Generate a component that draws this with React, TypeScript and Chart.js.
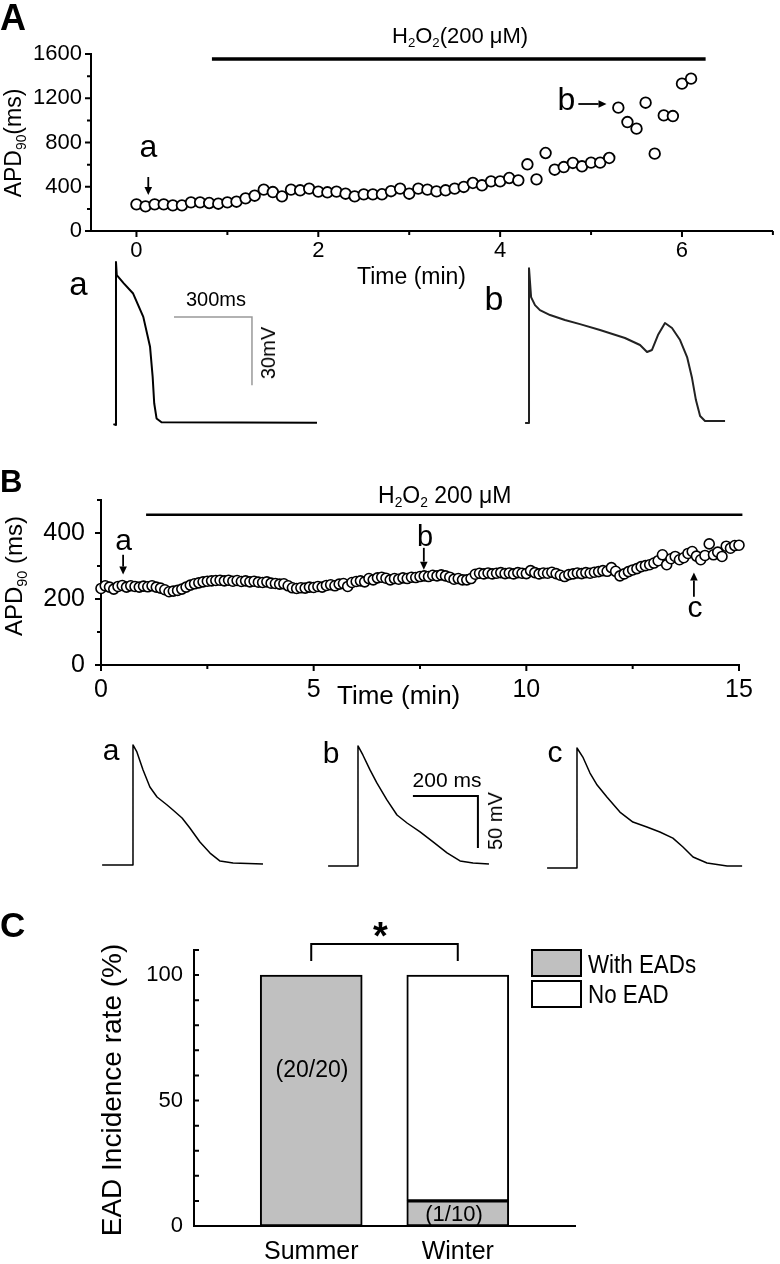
import React, { useEffect, useRef } from "react";
import { Chart, registerables } from "chart.js";
Chart.register(...registerables);

const FONT = '"Liberation Sans", Arial, Helvetica, sans-serif';
Chart.defaults.font.family = FONT;
Chart.defaults.color = "#000";

// ---------------- Panel A: APD90 vs time ----------------
const apdA_interval = 0.1; // min between sampled beats
const apdA_ms = [
  241, 223, 241, 241, 232, 232, 259, 259, 253, 247,
  259, 265, 295, 319, 374, 352, 313, 374, 368, 383,
  356, 350, 356, 337, 313, 331, 331, 332, 360, 383,
  337, 383, 374, 358, 368, 383, 398, 434, 413, 449,
  449, 479, 458, 603, 467, 705, 554, 578, 615, 585,
  618, 618, 660, 1115, 985, 925, 1160, 699, 1045, 1039,
  1332, 1377,
];
const apdA_xLabels = [0, 2, 4, 6];
const apdA_xMinor = [1, 3, 5, 7];
const apdA_yLabels = [0, 400, 800, 1200, 1600];
const apdA_yMinor = [200, 600, 1000, 1400];
const apdA_h2o2 = [0.83, 6.26];
const apdA_h2o2Level = 1555;
const apdA_arrows = [
  { x1: 0.13, y1: 488, x2: 0.13, y2: 325 },
  { x1: 4.86, y1: 1148, x2: 5.17, y2: 1148 },
];

// Panel A action potentials (ms, mV)
const traceAa_ms = [-10, 0, 0, 3, 30, 66, 105, 131, 141, 147, 156, 175, 773];
const traceAa_mV = [-79.6, -80, -8.1, -13.9, -17.5, -22, -32.3, -45.5, -58.7, -70.4, -77.1, -78.8, -79];
const traceAb_ms = [-15, 0, 0, 8, 23, 42, 81, 138, 196, 273, 369, 427, 454, 473, 496, 523, 550, 581, 608, 627, 642, 658, 677, 754];
const traceAb_mV = [-79.1, -79.1, -10.8, -23.6, -27.1, -29.3, -31.5, -33.7, -35.5, -38.1, -41.6, -44.7, -47.8, -46.9, -40.3, -35.0, -37.2, -42.5, -50.0, -59.3, -69.0, -76.0, -78.2, -78.2];
const scaleBarA = { ms: 300, mV: 30, cornerMs: 523, cornerMV: -32.4 };

// ---------------- Panel B: APD90 vs time ----------------
const apdB_interval = 0.1;
const apdB_ms = [
  232, 240, 236, 230, 238, 241, 236, 240, 238, 236, 239,
  237, 240, 236, 233, 228, 222, 224, 226, 230, 236,
  242, 246, 249, 252, 254, 255, 256, 257, 255, 257,
  254, 256, 253, 255, 252, 254, 251, 250, 252, 248,
  247, 245, 246, 240, 234, 232, 234, 233, 236, 235,
  238, 236, 241, 243, 240, 245, 247, 238, 250, 253,
  255, 252, 262, 258, 264, 266, 263, 258, 262, 260,
  264, 262, 266, 265, 268, 270, 268, 272, 270, 273,
  270, 266, 260, 262, 258, 258, 262, 275, 278, 276,
  279, 276, 278, 280, 277, 279, 276, 280, 278, 277,
  286, 280, 276, 279, 278, 281, 277, 272, 268, 274,
  276, 279, 277, 280, 278, 281, 283, 286, 284, 295,
  284, 270, 276, 283, 288, 292, 298, 301, 304, 309,
  316, 334, 304, 322, 329, 319, 325, 338, 344, 330,
  319, 332, 367, 334, 342, 329, 360, 354, 362, 363,
];
const apdB_xLabels = [0, 5, 10, 15];
const apdB_xMinor = [2.5, 7.5, 12.5];
const apdB_yLabels = [0, 200, 400];
const apdB_yMinor = [100, 300, 500];
const apdB_h2o2 = [1.06, 15.08];
const apdB_h2o2Level = 455;
const apdB_arrows = [
  { x1: 0.52, y1: 334, x2: 0.52, y2: 274 },
  { x1: 7.59, y1: 355, x2: 7.59, y2: 289 },
  { x1: 13.94, y1: 207, x2: 13.94, y2: 280 },
];

// Panel B action potentials (ms, mV)
const traceBa_ms = [-95, 0, 0, 12, 31, 52, 74, 105, 123, 151, 175, 206, 237, 268, 308, 400];
const traceBa_mV = [-80, -80, 35.4, 28.7, 11.3, -5.0, -14.6, -22.3, -27.1, -34.8, -44.4, -57.9, -68.5, -76.2, -78.1, -79.0];
const traceBb_ms = [-92, 0, 0, 15, 37, 58, 89, 120, 151, 191, 231, 274, 314, 354, 403];
const traceBb_mV = [-80, -80, 35.4, 26.7, 12.3, -0.2, -16.5, -31.0, -38.7, -47.3, -56.9, -67.5, -75.2, -77.1, -78.1];
const traceBc_ms = [-92, 0, 0, 18, 40, 62, 92, 132, 172, 215, 255, 295, 326, 357, 400, 462, 508];
const traceBc_mV = [-80, -80, 35.4, 26.7, 11.3, -0.2, -11.7, -26.2, -35.8, -40.6, -45.4, -51.2, -59.8, -69.4, -75.2, -78.1, -78.1];
const scaleBarB = { ms: 200, mV: 50, cornerMs: 369, cornerMV: -12.7 };

// ---------------- Panel C: EAD incidence ----------------
const seasons = ["Summer", "Winter"];
const withEADs = [100, 10];
const noEAD = [0, 90];
const cYLabels = [0, 50, 100];
const cYTicks = [0, 10, 20, 30, 40, 50, 60, 70, 80, 90, 100, 110];
const cBracket = { from: 1, to: 2, top: 112.4, bottom: 105.6 };

// ---------------- helpers ----------------
type Tick = { v: number; len: number };
const ticksPlugin = (spec: { x?: Tick[]; y?: Tick[]; yInward?: boolean; lw?: number }) => ({
  id: "customTicks",
  afterDraw(chart: any) {
    const { ctx, chartArea: a, scales } = chart;
    ctx.save();
    ctx.strokeStyle = "#000";
    ctx.lineWidth = spec.lw ?? 2;
    ctx.beginPath();
    for (const t of spec.x ?? []) {
      const px = scales.x.getPixelForValue(t.v);
      ctx.moveTo(px, a.bottom);
      ctx.lineTo(px, a.bottom + t.len);
    }
    for (const t of spec.y ?? []) {
      const py = scales.y.getPixelForValue(t.v);
      ctx.moveTo(a.left, py);
      ctx.lineTo(a.left + (spec.yInward ? t.len : -t.len), py);
    }
    ctx.stroke();
    ctx.restore();
  },
});

const arrowsPlugin = (arrows: { x1: number; y1: number; x2: number; y2: number }[]) => ({
  id: "arrows",
  afterDraw(chart: any) {
    const { ctx, scales } = chart;
    ctx.save();
    ctx.strokeStyle = "#000";
    ctx.fillStyle = "#000";
    ctx.lineWidth = 1.8;
    for (const ar of arrows) {
      const x1 = scales.x.getPixelForValue(ar.x1);
      const y1 = scales.y.getPixelForValue(ar.y1);
      const x2 = scales.x.getPixelForValue(ar.x2);
      const y2 = scales.y.getPixelForValue(ar.y2);
      const L = Math.hypot(x2 - x1, y2 - y1);
      const ux = (x2 - x1) / L, uy = (y2 - y1) / L;
      const head = 8, hw = 3.8;
      ctx.beginPath();
      ctx.moveTo(x1, y1);
      ctx.lineTo(x2 - ux * head, y2 - uy * head);
      ctx.stroke();
      ctx.beginPath();
      ctx.moveTo(x2, y2);
      ctx.lineTo(x2 - ux * head - uy * hw, y2 - uy * head + ux * hw);
      ctx.lineTo(x2 - ux * head + uy * hw, y2 - uy * head - ux * hw);
      ctx.closePath();
      ctx.fill();
    }
    ctx.restore();
  },
});

const scaleBarPlugin = (b: { ms: number; mV: number; cornerMs: number; cornerMV: number }, color: string, lw: number) => ({
  id: "scaleBar",
  afterDraw(chart: any) {
    const { ctx, scales } = chart;
    const x0 = scales.x.getPixelForValue(b.cornerMs - b.ms);
    const x1 = scales.x.getPixelForValue(b.cornerMs);
    const y0 = scales.y.getPixelForValue(b.cornerMV);
    const y1 = scales.y.getPixelForValue(b.cornerMV - b.mV);
    ctx.save();
    ctx.strokeStyle = color;
    ctx.lineWidth = lw;
    ctx.beginPath();
    ctx.moveTo(x0, y0);
    ctx.lineTo(x1, y0);
    ctx.lineTo(x1, y1);
    ctx.stroke();
    ctx.restore();
  },
});

const bracketPlugin = (br: typeof cBracket) => ({
  id: "bracket",
  afterDraw(chart: any) {
    const { ctx, scales } = chart;
    const xa = scales.x.getPixelForValue(br.from);
    const xb = scales.x.getPixelForValue(br.to);
    const yt = scales.y.getPixelForValue(br.top);
    const yb = scales.y.getPixelForValue(br.bottom);
    ctx.save();
    ctx.strokeStyle = "#000";
    ctx.lineWidth = 2;
    ctx.beginPath();
    ctx.moveTo(xa, yb);
    ctx.lineTo(xa, yt);
    ctx.lineTo(xb, yt);
    ctx.lineTo(xb, yb);
    ctx.stroke();
    ctx.restore();
  },
});

const axis = (size: number, padding: number, labels: number[], fmt?: (v: number) => string) => ({
  type: "linear",
  grid: { display: false, drawTicks: false },
  border: { display: true, color: "#000", width: 2 },
  ticks: {
    font: { size, family: FONT },
    color: "#000",
    padding,
    autoSkip: false,
    maxRotation: 0,
    callback: (v: any) => (fmt ? fmt(Number(v)) : String(v)),
  },
  afterBuildTicks: (s: any) => {
    s.ticks = labels.map((v) => ({ value: v }));
  },
});

const baseOptions = {
  animation: false,
  responsive: false,
  maintainAspectRatio: false,
  events: [],
  plugins: { legend: { display: false }, tooltip: { enabled: false }, title: { display: false } },
};

function ChartCanvas({ left, top, width, height, make }: any) {
  const ref = useRef<HTMLCanvasElement>(null);
  useEffect(() => {
    const c = new Chart(ref.current as HTMLCanvasElement, make());
    return () => c.destroy();
  }, []);
  return (
    <canvas
      ref={ref}
      width={width}
      height={height}
      style={{ position: "absolute", left, top, width, height }}
    />
  );
}

const scatterConfig = (p: any) => ({
  type: "scatter",
  data: {
    datasets: [
      {
        data: p.values.map((v: number, i: number) => ({ x: i * p.interval, y: v })),
        pointRadius: p.radius,
        pointBorderWidth: p.bw,
        pointBorderColor: "#000",
        pointBackgroundColor: "#fff",
        showLine: false,
        clip: false,
      },
      {
        data: [
          { x: p.h2o2[0], y: p.h2o2Level },
          { x: p.h2o2[1], y: p.h2o2Level },
        ],
        showLine: true,
        borderColor: "#000",
        borderWidth: p.barWidth,
        pointRadius: 0,
        clip: false,
      },
    ],
  },
  options: {
    ...baseOptions,
    layout: { padding: p.padding },
    scales: {
      x: {
        ...axis(p.fontSize, p.xPad, p.xLabels),
        min: p.xMin,
        max: p.xMax,
        afterFit: (s: any) => {
          s.height = p.xH;
        },
      },
      y: {
        ...axis(p.fontSize, p.yPad, p.yLabels),
        min: p.yMin,
        max: p.yMax,
        afterFit: (s: any) => {
          s.width = p.yW;
        },
      },
    },
  },
  plugins: [
    ticksPlugin({
      x: [...p.xLabels.map((v: number) => ({ v, len: 6 })), ...p.xMinor.map((v: number) => ({ v, len: 4 }))],
      y: [...p.yLabels.map((v: number) => ({ v, len: 6 })), ...p.yMinor.map((v: number) => ({ v, len: 4 }))],
    }),
    arrowsPlugin(p.arrows),
  ],
});

const traceConfig = (ms: number[], mV: number[], xr: number[], yr: number[], color: string, width: number, extra: any[] = []) => ({
  type: "line",
  data: {
    datasets: [
      {
        data: ms.map((x, i) => ({ x, y: mV[i] })),
        borderColor: color,
        borderWidth: width,
        pointRadius: 0,
        tension: 0,
        fill: false,
        clip: false,
        borderJoinStyle: "round",
      },
    ],
  },
  options: {
    ...baseOptions,
    layout: { padding: 0 },
    scales: {
      x: { type: "linear", display: false, min: xr[0], max: xr[1] },
      y: { type: "linear", display: false, min: yr[0], max: yr[1] },
    },
  },
  plugins: extra,
});

const barConfig = () => ({
  type: "bar",
  data: {
    datasets: [
      {
        label: "With EADs",
        data: seasons.map((_, i) => ({ x: i + 1, y: withEADs[i] })),
        backgroundColor: "#c0c0c0",
        borderColor: "#000",
        borderWidth: 2,
        borderSkipped: false,
        barThickness: 102,
        stack: "s",
      },
      {
        label: "No EAD",
        data: seasons.map((_, i) => ({ x: i + 1, y: noEAD[i] })),
        backgroundColor: "#fff",
        borderColor: "#000",
        borderWidth: 2,
        borderSkipped: false,
        barThickness: 102,
        stack: "s",
      },
    ],
  },
  options: {
    ...baseOptions,
    layout: { padding: { left: 0, top: 70, right: 205, bottom: 0 } },
    scales: {
      x: {
        ...axis(25, 11.5, [1, 2], (v) => seasons[v - 1] ?? ""),
        offset: false,
        stacked: true,
        min: 0.2,
        max: 2.8,
        afterFit: (s: any) => {
          s.height = 38;
        },
      },
      y: {
        ...axis(22, 11, cYLabels),
        stacked: true,
        min: 0,
        max: 110,
        afterFit: (s: any) => {
          s.width = 194;
        },
      },
    },
  },
  plugins: [ticksPlugin({ y: cYTicks.map((v) => ({ v, len: 5 })), yInward: true }), bracketPlugin(cBracket)],
});

// ---------------- text helpers ----------------
function Label({ x, y, size, children, align = "center", weight = 400, sx = 1 }: any) {
  const tx = align === "center" ? "-50%" : align === "right" ? "-100%" : "0";
  return (
    <div
      style={{
        position: "absolute",
        left: x,
        top: y - 0.847 * size,
        fontSize: size,
        lineHeight: `${size}px`,
        fontFamily: FONT,
        fontWeight: weight,
        whiteSpace: "nowrap",
        color: "#000",
        transform: `translateX(${tx}) scaleX(${sx})`,
        transformOrigin: align === "left" ? "left center" : "center center",
      }}
    >
      {children}
    </div>
  );
}

function VLabel({ cx, cy, size, children }: any) {
  return (
    <div
      style={{
        position: "absolute",
        left: cx,
        top: cy,
        fontSize: size,
        lineHeight: `${size}px`,
        fontFamily: FONT,
        whiteSpace: "nowrap",
        color: "#000",
        transform: "translate(-50%,-50%) rotate(-90deg)",
      }}
    >
      {children}
    </div>
  );
}

const Sub = ({ children }: any) => (
  <span style={{ fontSize: "0.6em", position: "relative", top: "0.35em", lineHeight: 0 }}>{children}</span>
);

export default function App() {
  return (
    <div
      style={{
        position: "absolute",
        left: 0,
        top: 0,
        width: 780,
        height: 1264,
        background: "#fff",
        overflow: "hidden",
      }}
    >
      {/* Panel A scatter */}
      <ChartCanvas
        left={0}
        top={0}
        width={780}
        height={270}
        make={() =>
          scatterConfig({
            values: apdA_ms,
            interval: apdA_interval,
            radius: 5.3,
            bw: 1.8,
            h2o2: apdA_h2o2,
            h2o2Level: apdA_h2o2Level,
            barWidth: 3.5,
            padding: { left: 0, top: 54, right: 3, bottom: 0 },
            fontSize: 22,
            xPad: 7,
            yPad: 9,
            xLabels: apdA_xLabels,
            xMinor: apdA_xMinor,
            yLabels: apdA_yLabels,
            yMinor: apdA_yMinor,
            xMin: -0.5,
            xMax: 7,
            yMin: 0,
            yMax: 1600,
            xH: 39,
            yW: 91,
            arrows: apdA_arrows,
          })
        }
      />
      {/* Panel A traces */}
      <ChartCanvas
        left={100}
        top={250}
        width={230}
        height={190}
        make={() =>
          traceConfig(traceAa_ms, traceAa_mV, [-61.5, 823.1], [-86.6, -2.8], "#000", 2, [
            scaleBarPlugin(scaleBarA, "#999", 1.5),
          ])
        }
      />
      <ChartCanvas
        left={510}
        top={250}
        width={230}
        height={190}
        make={() => traceConfig(traceAb_ms, traceAb_mV, [-73.1, 811.5], [-86.6, -2.8], "#222", 2)}
      />

      {/* Panel B scatter */}
      <ChartCanvas
        left={0}
        top={440}
        width={780}
        height={270}
        make={() =>
          scatterConfig({
            values: apdB_ms,
            interval: apdB_interval,
            radius: 5,
            bw: 1.6,
            h2o2: apdB_h2o2,
            h2o2Level: apdB_h2o2Level,
            barWidth: 2.5,
            padding: { left: 0, top: 60, right: 41, bottom: 0 },
            fontSize: 25,
            xPad: 10,
            yPad: 16,
            xLabels: apdB_xLabels,
            xMinor: apdB_xMinor,
            yLabels: apdB_yLabels,
            yMinor: apdB_yMinor,
            xMin: 0,
            xMax: 15,
            yMin: 0,
            yMax: 500,
            xH: 45,
            yW: 101,
            arrows: apdB_arrows,
          })
        }
      />
      {/* Panel B traces */}
      <ChartCanvas
        left={95}
        top={730}
        width={200}
        height={150}
        make={() => traceConfig(traceBa_ms, traceBa_mV, [-116.9, 498.5], [-94.4, 49.8], "#000", 1.5)}
      />
      <ChartCanvas
        left={320}
        top={730}
        width={200}
        height={150}
        make={() =>
          traceConfig(traceBb_ms, traceBb_mV, [-116.9, 498.5], [-93.5, 50.7], "#000", 1.5, [
            scaleBarPlugin(scaleBarB, "#000", 2),
          ])
        }
      />
      <ChartCanvas
        left={540}
        top={730}
        width={220}
        height={150}
        make={() => traceConfig(traceBc_ms, traceBc_mV, [-113.8, 563], [-91.5, 52.7], "#000", 1.5)}
      />

      {/* Panel C bars */}
      <ChartCanvas left={0} top={880} width={780} height={384} make={barConfig} />

      {/* ---- Panel A text ---- */}
      <Label x={0} y={30} size={36} weight={700} align="left">A</Label>
      <VLabel cx={12.5} cy={143} size={23}>
        APD<Sub>90</Sub>(ms)
      </VLabel>
      <Label x={392} y={43.5} size={22} align="left">
        H<Sub>2</Sub>O<Sub>2</Sub>(200 μM)
      </Label>
      <Label x={148.5} y={157} size={32}>a</Label>
      <Label x={566.5} y={110} size={32}>b</Label>
      <Label x={357} y={284} size={23} align="left">Time (min)</Label>
      <Label x={78.5} y={295} size={33}>a</Label>
      <Label x={216} y={306} size={20}>300ms</Label>
      <VLabel cx={268} cy={353} size={20}>30mV</VLabel>
      <Label x={494} y={310} size={34}>b</Label>

      {/* ---- Panel B text ---- */}
      <Label x={0} y={492} size={31} weight={700} align="left">B</Label>
      <VLabel cx={14} cy={576} size={24}>
        APD<Sub>90</Sub> (ms)
      </VLabel>
      <Label x={378} y={503} size={23} align="left">
        H<Sub>2</Sub>O<Sub>2</Sub> 200 μM
      </Label>
      <Label x={123.5} y={550} size={30}>a</Label>
      <Label x={425} y={547} size={29}>b</Label>
      <Label x={695} y={617} size={30}>c</Label>
      <Label x={337} y={704} size={26} align="left">Time (min)</Label>
      <Label x={111} y={760} size={30}>a</Label>
      <Label x={331} y={763} size={30}>b</Label>
      <Label x={555} y={762} size={30}>c</Label>
      <Label x={447} y={787} size={21}>200 ms</Label>
      <VLabel cx={495} cy={821} size={20}>50 mV</VLabel>

      {/* ---- Panel C text ---- */}
      <Label x={0} y={937} size={35} weight={700} align="left">C</Label>
      <VLabel cx={112} cy={1089.5} size={28}>EAD Incidence rate (%)</VLabel>
      <Label x={380.5} y={949} size={38} weight={700}>*</Label>
      <Label x={312} y={1077} size={23}>(20/20)</Label>
      <Label x={454} y={1222} size={22}>(1/10)</Label>
      <div
        style={{
          position: "absolute",
          left: 531,
          top: 949,
          width: 51,
          height: 28,
          boxSizing: "border-box",
          border: "2px solid #000",
          background: "#c0c0c0",
        }}
      />
      <div
        style={{
          position: "absolute",
          left: 531,
          top: 980,
          width: 51,
          height: 28,
          boxSizing: "border-box",
          border: "2px solid #000",
          background: "#fff",
        }}
      />
      <Label x={588} y={973} size={26} align="left" sx={0.86}>With EADs</Label>
      <Label x={588} y={1003} size={26} align="left" sx={0.86}>No EAD</Label>
    </div>
  );
}
